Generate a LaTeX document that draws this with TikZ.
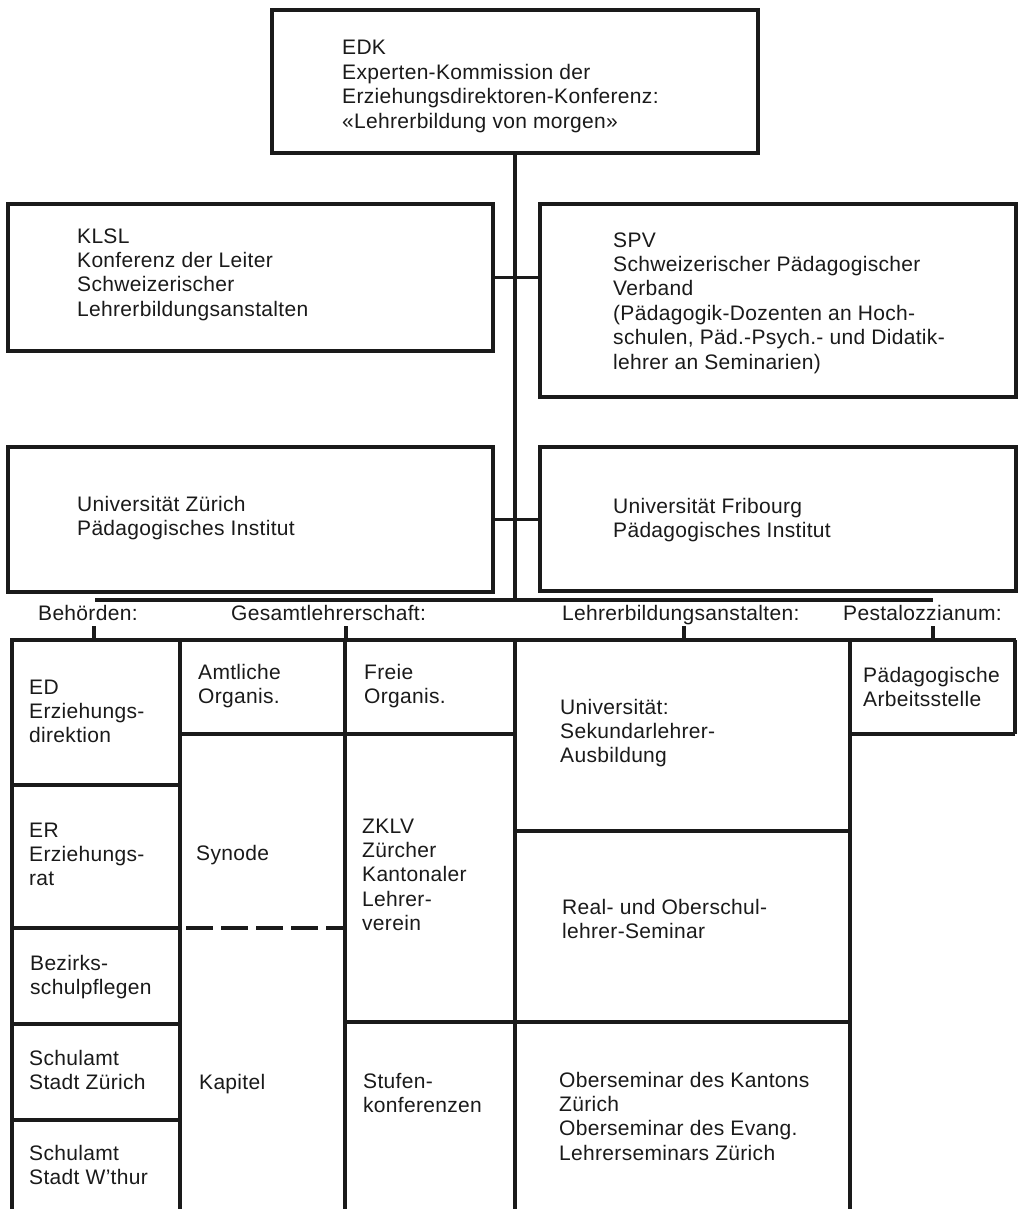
\documentclass[tikz,border=0pt]{standalone}
\usepackage{fontspec}
\setmainfont{Liberation Sans}[LetterSpace=1.5]
\newcommand\orgtext[1]{\parbox[t]{420pt}{\fontsize{21pt}{24.4pt}\selectfont #1}}
\definecolor{ink}{HTML}{1A1A1A}
\tikzset{
  orgbox/.style={draw=ink, line width=3.4pt, rectangle, anchor=north west, outer sep=0pt, inner sep=0pt},
  txt/.style={anchor=base west, inner sep=0pt, text=ink},
  gridline/.style={draw=ink, line width=3.1pt},
  conn/.style={draw=ink, line width=3.1pt},
}
\begin{document}
\begin{tikzpicture}[x=1pt,y=-1pt]
\useasboundingbox (0,0) rectangle (1017,1209);
\fill[white] (0,0) rectangle (1017,1209);
% upper boxes
\node[orgbox, minimum width=486pt, minimum height=143pt] (edk) at (272,10) {};
\node[orgbox, minimum width=485pt, minimum height=147pt] (klsl) at (8,204) {};
\node[orgbox, minimum width=476pt, minimum height=193pt] (spv) at (540,204) {};
\node[orgbox, minimum width=485pt, minimum height=145pt] (uz) at (8,447) {};
\node[orgbox, minimum width=476pt, minimum height=144pt] (uf) at (540,447) {};
% texts of upper boxes
\node[txt] (edkt) at (342,55) {\orgtext{EDK\\Experten-Kommission der\\Erziehungsdirektoren-Konferenz:\\«Lehrerbildung von morgen»}};
\node[txt] (klslt) at (77,243) {\orgtext{KLSL\\Konferenz der Leiter\\Schweizerischer\\Lehrerbildungsanstalten}};
\node[txt] (spvt) at (613,247) {\orgtext{SPV\\Schweizerischer Pädagogischer\\Verband\\(Pädagogik-Dozenten an Hoch-\\schulen, Päd.-Psych.- und Didatik-\\lehrer an Seminarien)}};
\node[txt] (uzt) at (77,511) {\orgtext{Universität Zürich\\Pädagogisches Institut}};
\node[txt] (uft) at (613,513) {\orgtext{Universität Fribourg\\Pädagogisches Institut}};
% bar and connectors
\coordinate (barL) at (95,600);
\coordinate (barR) at (933,600);
\draw[conn] (barL) -- (barR);
\draw[conn] (edk.south) -- (edk.south |- barL);
\draw[conn] (klsl.east) -- (klsl.east -| spv.west);
\draw[conn] (uz.east) -- (uz.east -| uf.west);
% group labels
\node[txt] (beh) at (38,620) {\orgtext{Behörden:}};
\node[txt] (ges) at (231,620) {\orgtext{Gesamtlehrerschaft:}};
\node[txt] (lba) at (562,620) {\orgtext{Lehrerbildungsanstalten:}};
\node[txt] (pes) at (843,620) {\orgtext{Pestalozzianum:}};
% grid
\coordinate (gTL) at (10,640);
\coordinate (gTR) at (1016,640);
\draw[gridline] (gTL) -- (gTR);
\foreach \x/\n in {94/a,346/b,684/c,933/d}{
  \coordinate (tick\n) at (\x,626);
  \draw[conn] (tick\n) -- (tick\n |- gTL);
}
\draw[gridline] (12,640) -- (12,1209);
\draw[gridline] (180,640) -- (180,1209);
\draw[gridline] (345,640) -- (345,1209);
\draw[gridline] (515,640) -- (515,1209);
\draw[gridline] (850,640) -- (850,1209);
\draw[gridline] (1015,640) -- (1015,734);
\draw[gridline] (12,785) -- (180,785);
\draw[gridline] (12,928) -- (180,928);
\draw[gridline] (12,1024) -- (180,1024);
\draw[gridline] (12,1120) -- (180,1120);
\draw[gridline] (180,734) -- (515,734);
\draw[gridline] (850,734) -- (1015,734);
\draw[gridline] (515,831) -- (850,831);
\draw[gridline] (345,1022) -- (850,1022);
\draw[gridline, dash pattern=on 27pt off 8pt, dash phase=-6pt] (180,928) -- (345,928);
% cell texts
\node[txt] (ed) at (29,694) {\orgtext{ED\\Erziehungs-\\direktion}};
\node[txt] (er) at (29,837) {\orgtext{ER\\Erziehungs-\\rat}};
\node[txt] (bez) at (30,970) {\orgtext{Bezirks-\\schulpflegen}};
\node[txt] (saz) at (29,1065) {\orgtext{Schulamt\\Stadt Zürich}};
\node[txt] (saw) at (29,1160) {\orgtext{Schulamt\\Stadt W'thur}};
\node[txt] (amt) at (198,679) {\orgtext{Amtliche\\Organis.}};
\node[txt] (syn) at (196,860) {\orgtext{Synode}};
\node[txt] (kap) at (199,1089) {\orgtext{Kapitel}};
\node[txt] (fre) at (364,679) {\orgtext{Freie\\Organis.}};
\node[txt] (zklv) at (362,833) {\orgtext{ZKLV\\Zürcher\\Kantonaler\\Lehrer-\\verein}};
\node[txt] (stu) at (363,1088) {\orgtext{Stufen-\\konferenzen}};
\node[txt] (uni) at (560,714) {\orgtext{Universität:\\Sekundarlehrer-\\Ausbildung}};
\node[txt] (real) at (562,914) {\orgtext{Real- und Oberschul-\\lehrer-Seminar}};
\node[txt] (obs) at (559,1087) {\orgtext{Oberseminar des Kantons\\Zürich\\Oberseminar des Evang.\\Lehrerseminars Zürich}};
\node[txt] (pae) at (863,682) {\orgtext{Pädagogische\\Arbeitsstelle}};
\end{tikzpicture}
\end{document}
